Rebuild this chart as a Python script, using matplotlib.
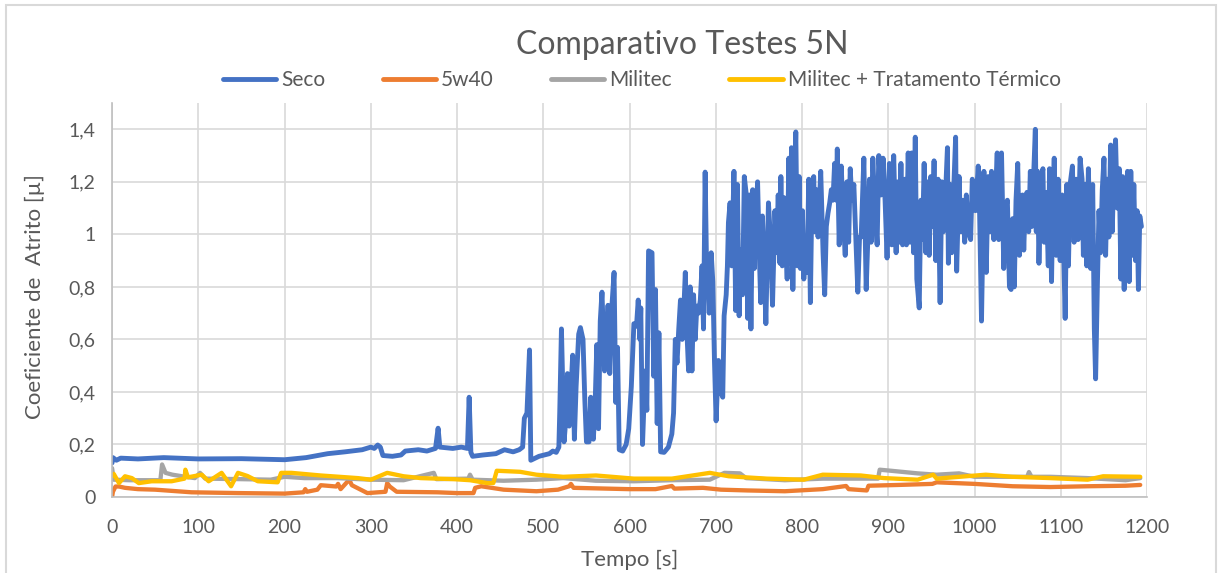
import matplotlib
matplotlib.use("Agg")
import matplotlib.pyplot as plt
from matplotlib.ticker import FuncFormatter, MultipleLocator
from matplotlib.patches import Rectangle

plt.rcParams['font.family'] = ['Lato', 'DejaVu Sans']

# Seco (dry) friction coefficient, read as turning points of the curve
seco_t = [0, 1, 5, 10, 30, 60, 100, 150, 200, 225, 250, 270, 290, 300, 304, 308, 311, 314, 325, 335,
          340, 355, 365, 375, 378, 380, 395, 405, 412, 414, 416, 418, 430, 445, 455, 465, 472, 476, 478, 481,
          484, 485.5, 495, 507, 511, 515, 518, 519, 521, 523, 524, 526, 528, 530, 532, 534, 536, 538, 541, 543,
          546, 548, 550, 553, 555, 558, 560, 562, 564, 566, 568, 571, 573, 575, 577, 579, 582, 584, 586, 588,
          592, 596, 599, 602, 605, 608, 610, 612, 613, 615, 618, 620, 622, 626, 628, 630, 632, 634, 636, 640,
          645, 649, 651, 653, 655, 657, 659, 661, 662.6, 664.6, 666.5, 668.4, 670.3, 672.3, 674.2, 676.1, 678, 680, 682, 684,
          685.7, 687.6, 689, 690.3, 692.3, 694.6, 696.5, 698.4, 700.3, 703, 705.7, 708, 709.6, 712, 713.4, 714.6, 716.5, 718.4, 721, 723,
          725, 727, 729, 731, 733, 735, 737, 739, 740.7, 742.7, 744.6, 746.5, 748.4, 750.3, 752, 754, 756, 758, 761, 763.4,
          765.7, 768.5, 770.4, 772.3, 774.3, 775.4, 777, 779, 780.8, 782.7, 784.6, 786.2, 787.7, 789.3, 790.8, 792.7, 794.6, 796.6, 798.1, 800.4,
          802, 804, 805.8, 807.7, 809.6, 811.6, 813.5, 814.6, 816.6, 818.5, 821.6, 824.3, 826.2, 828.1, 830, 832, 833.9, 835.8, 837.7, 839.6,
          840.8, 843, 845.4, 847.7, 850, 852, 854, 855.8, 857.7, 860, 862, 864.6, 866.6, 868.5, 871.6, 874.3, 876.2, 878.1, 880, 882,
          883.9, 887, 888.9, 891.6, 893.9, 896.2, 898.5, 901.2, 903.9, 906.2, 909, 911, 912.7, 914.6, 916.5, 919.2, 921, 923, 925, 927,
          929.2, 931.2, 933, 935.8, 937.7, 939.6, 941.5, 943.5, 945.4, 947.3, 949.2, 951.2, 953, 955, 957.7, 960, 962, 963.8, 966.5, 968.5,
          969.6, 971.5, 973.5, 976.2, 978, 979.2, 982, 983.8, 986.5, 988.5, 990.4, 992.7, 995.4, 997.3, 999.2, 1001, 1004.2, 1005.8, 1008, 1010.8,
          1013.5, 1015.8, 1017.7, 1019.6, 1022.3, 1024.2, 1026.2, 1028, 1031.2, 1033.8, 1035.8, 1038, 1040.4, 1042.3, 1044.2, 1046, 1048, 1050, 1052, 1054,
          1055.5, 1057, 1058.8, 1060.7, 1062.7, 1064.6, 1066.5, 1068.4, 1070.4, 1071.5, 1073, 1074.6, 1076.9, 1079.2, 1080.7, 1083, 1085.4, 1086.9, 1089.2, 1090.7,
          1092.3, 1094.6, 1096.9, 1099.2, 1101.5, 1103, 1105, 1106.9, 1108.8, 1110.7, 1113.4, 1115.4, 1117.7, 1120, 1122.3, 1124.6, 1126.1, 1128, 1130, 1131.9,
          1134.6, 1136.9, 1138.8, 1140.3, 1142.3, 1144.2, 1146.1, 1148, 1150, 1151.9, 1153.8, 1155.7, 1157.7, 1159.6, 1161.5, 1163.4, 1165.4, 1167.7, 1169.6, 1171.5,
          1173.4, 1175.4, 1177.3, 1179.2, 1181.1, 1183, 1184.6, 1186.5, 1188.4, 1189.9, 1191.5, 1193.4]
seco_mu = [0.13, 0.15, 0.14, 0.148, 0.145, 0.15, 0.145, 0.146, 0.142, 0.15, 0.165, 0.172, 0.18, 0.19, 0.185, 0.198, 0.19, 0.158, 0.155, 0.16,
           0.175, 0.18, 0.175, 0.185, 0.262, 0.19, 0.185, 0.19, 0.185, 0.38, 0.17, 0.155, 0.16, 0.165, 0.18, 0.172, 0.18, 0.19, 0.30, 0.32,
           0.56, 0.14, 0.155, 0.165, 0.175, 0.17, 0.19, 0.32, 0.64, 0.35, 0.21, 0.29, 0.47, 0.27, 0.40, 0.54, 0.22, 0.42, 0.62, 0.645,
           0.60, 0.38, 0.21, 0.21, 0.38, 0.22, 0.35, 0.58, 0.26, 0.67, 0.78, 0.48, 0.56, 0.73, 0.47, 0.70, 0.855, 0.36, 0.57, 0.18,
           0.175, 0.20, 0.26, 0.42, 0.66, 0.65, 0.75, 0.60, 0.72, 0.20, 0.48, 0.33, 0.937, 0.93, 0.46, 0.79, 0.28, 0.625, 0.172, 0.17,
           0.19, 0.24, 0.32, 0.60, 0.51, 0.64, 0.75, 0.60, 0.69, 0.855, 0.625, 0.48, 0.80, 0.48, 0.77, 0.60, 0.727, 0.70, 0.75, 0.88,
           0.64, 1.237, 0.93, 0.88, 0.70, 0.93, 0.82, 0.52, 0.29, 0.52, 0.40, 0.38, 0.69, 0.77, 0.88, 1.045, 1.12, 0.88, 1.24, 0.71,
           1.19, 0.69, 0.94, 0.77, 1.22, 1.16, 0.68, 1.15, 0.64, 1.17, 0.87, 1.07, 1.20, 0.94, 0.74, 1.07, 0.88, 0.66, 1.12, 0.98,
           0.73, 1.09, 0.93, 1.15, 0.89, 1.22, 0.88, 1.14, 1.01, 0.83, 1.29, 0.89, 1.33, 0.79, 1.13, 1.39, 0.88, 1.22, 0.87, 1.09,
           0.83, 0.97, 0.855, 1.21, 0.74, 1.20, 1.22, 1.01, 1.17, 0.99, 1.24, 0.93, 0.77, 1.03, 1.08, 1.12, 1.17, 1.13, 1.27, 1.13,
           1.325, 0.96, 1.26, 1.06, 0.92, 1.20, 0.97, 1.25, 1.13, 1.19, 1.01, 0.78, 0.99, 0.99, 1.29, 0.79, 0.98, 1.21, 0.97, 1.29,
           1.13, 0.96, 1.30, 1.15, 1.29, 1.13, 0.91, 1.27, 0.96, 1.30, 0.93, 1.20, 0.97, 1.27, 0.96, 1.21, 0.96, 1.31, 0.97, 1.31,
           0.93, 1.37, 0.83, 0.72, 1.13, 0.98, 1.27, 0.93, 1.20, 0.92, 1.22, 1.03, 1.28, 0.90, 1.21, 0.74, 1.20, 1.01, 1.17, 1.33,
           0.89, 1.19, 0.93, 1.21, 1.37, 0.86, 1.22, 1.01, 1.13, 0.97, 1.15, 1.01, 0.98, 1.21, 1.16, 1.09, 1.26, 1.08, 0.67, 1.24,
           0.855, 1.22, 1.01, 1.24, 0.98, 1.15, 1.31, 0.98, 1.31, 0.87, 1.10, 1.13, 0.80, 0.79, 1.06, 0.80, 1.13, 1.27, 0.92, 1.09,
           1.15, 0.94, 1.13, 1.16, 1.01, 1.24, 1.03, 1.22, 1.40, 1.01, 1.24, 0.89, 1.20, 1.25, 0.97, 1.16, 0.88, 1.25, 0.82, 1.13,
           1.29, 0.92, 1.21, 0.90, 1.15, 0.97, 0.68, 1.19, 0.88, 1.19, 1.26, 0.97, 1.21, 0.98, 1.29, 1.21, 0.92, 1.19, 0.88, 1.25,
           0.87, 1.19, 0.64, 0.45, 0.80, 1.09, 0.93, 1.17, 1.29, 0.92, 1.21, 0.99, 1.34, 1.01, 1.26, 1.36, 1.10, 1.25, 0.83, 1.22,
           0.79, 1.13, 1.24, 0.82, 1.24, 0.92, 1.19, 0.90, 1.09, 0.79, 1.07, 1.03]

# 5w40 oil
oleo_t = [0, 1, 4, 8, 15, 30, 50, 92, 146, 200, 222, 224, 226, 238, 242, 260, 262, 265, 275, 278,
          284, 296, 317, 319, 322, 330, 377, 400, 419, 421, 428, 454, 492, 517, 530, 532, 535, 561, 599, 630,
          649, 652, 685, 706, 737, 780, 824, 851, 854, 875, 877, 912, 951, 956, 1000, 1044, 1088, 1131, 1175, 1192]
oleo_mu = [0.0, 0.02, 0.04, 0.04, 0.035, 0.03, 0.028, 0.018, 0.015, 0.013, 0.018, 0.03, 0.02, 0.028, 0.045, 0.04, 0.05, 0.03, 0.066, 0.045,
           0.035, 0.015, 0.02, 0.053, 0.04, 0.02, 0.018, 0.015, 0.015, 0.035, 0.041, 0.028, 0.022, 0.028, 0.041, 0.05, 0.035, 0.033, 0.03, 0.03,
           0.042, 0.032, 0.035, 0.028, 0.025, 0.022, 0.03, 0.042, 0.03, 0.025, 0.043, 0.046, 0.05, 0.056, 0.05, 0.041, 0.038, 0.041, 0.043, 0.046]

# Militec
militec_t = [0, 2, 20, 56, 58, 62, 70, 85, 96, 102, 108, 150, 184, 200, 223, 261, 300, 338, 373, 376,
             413, 415, 418, 454, 492, 523, 561, 605, 649, 693, 710, 728, 735, 780, 824, 888, 890, 903, 934, 956,
             982, 1000, 1061, 1063, 1066, 1088, 1131, 1175, 1192]
militec_mu = [0.11, 0.066, 0.064, 0.064, 0.124, 0.092, 0.085, 0.077, 0.072, 0.092, 0.07, 0.068, 0.066, 0.077, 0.072, 0.072, 0.066, 0.064, 0.092, 0.068,
              0.07, 0.085, 0.066, 0.062, 0.066, 0.072, 0.062, 0.06, 0.064, 0.066, 0.092, 0.09, 0.072, 0.064, 0.07, 0.07, 0.104, 0.1, 0.09, 0.085,
              0.09, 0.077, 0.077, 0.095, 0.077, 0.077, 0.072, 0.064, 0.072]

# Militec + heat treatment
militec_tt_t = [0, 2, 8, 15, 23, 31, 46, 69, 84, 85, 88, 104, 112, 127, 138, 146, 157, 169, 192, 196,
                208, 242, 285, 300, 319, 338, 358, 396, 415, 435, 442, 446, 473, 492, 523, 561, 605, 649, 693, 715,
                759, 802, 824, 868, 895, 934, 952, 956, 1013, 1044, 1088, 1131, 1149, 1192]
militec_tt_mu = [0.08, 0.088, 0.053, 0.079, 0.072, 0.053, 0.06, 0.06, 0.07, 0.104, 0.075, 0.085, 0.06, 0.092, 0.041, 0.092, 0.08, 0.06, 0.056, 0.092,
                 0.092, 0.082, 0.072, 0.066, 0.092, 0.079, 0.072, 0.068, 0.064, 0.053, 0.053, 0.1, 0.096, 0.085, 0.077, 0.082, 0.07, 0.07, 0.092, 0.079,
                 0.07, 0.066, 0.085, 0.082, 0.072, 0.066, 0.085, 0.07, 0.085, 0.077, 0.072, 0.066, 0.079, 0.077]

series = [
    (seco_t, seco_mu, "Seco", "#4472C4", 3.5),
    (oleo_t, oleo_mu, "5w40", "#ED7D31", 3.1),
    (militec_t, militec_mu, "Militec", "#A5A5A5", 3.1),
    (militec_tt_t, militec_tt_mu, "Militec + Tratamento Térmico", "#FFC000", 3.1),
]

fig = plt.figure(figsize=(12.18, 5.73), dpi=100)
ax = fig.add_axes([0.092, 0.1326, 0.8498, 0.6876])

for t, mu, name, cor, lw in series:
    ax.plot(t, mu, color=cor, lw=lw, label=name, solid_joinstyle="round", solid_capstyle="round")

ax.set_xlim(0, 1200)
ax.set_ylim(0, 1.5)
ax.xaxis.set_major_locator(MultipleLocator(100))
ax.set_yticks([0, 0.2, 0.4, 0.6, 0.8, 1.0, 1.2, 1.4])
ax.yaxis.set_major_formatter(FuncFormatter(lambda v, p: f"{v:g}".replace(".", ",")))
ax.grid(True, color="#D9D9D9", lw=1.2)
ax.set_axisbelow(True)
for s in ["top", "right"]:
    ax.spines[s].set_visible(False)
for s in ["left", "bottom"]:
    ax.spines[s].set_color("#BFBFBF")
    ax.spines[s].set_linewidth(1.2)
ax.tick_params(length=0, labelsize=14, labelcolor="#595959")
ax.tick_params(axis="x", pad=16)
ax.tick_params(axis="y", pad=12)

fig.text(0.56, 0.922, "Comparativo Testes 5N", ha="center", va="center", fontsize=23, color="#595959")
fig.text(0.029, 0.483, "Coeficiente de  Atrito [µ]", rotation=90, ha="center", va="center",
         fontsize=16, color="#595959")
fig.text(0.517, 0.023, "Tempo [s]", ha="center", va="center", fontsize=16, color="#595959")

leg = fig.legend(loc="center", bbox_to_anchor=(0.527, 0.86), ncol=4, frameon=False, fontsize=15,
                 handlelength=2.55, handletextpad=0.25, columnspacing=2.75)
for h in leg.get_lines():
    h.set_linewidth(3.5)
for txt in leg.get_texts():
    txt.set_color("#595959")

# chart border
fig.patches.append(Rectangle((6 / 1218, -0.05), 1210 / 1218, 1.05 - 5 / 573, transform=fig.transFigure,
                             fill=False, edgecolor="#D9D9D9", lw=1.5))

fig.savefig("out.png", dpi=100)
